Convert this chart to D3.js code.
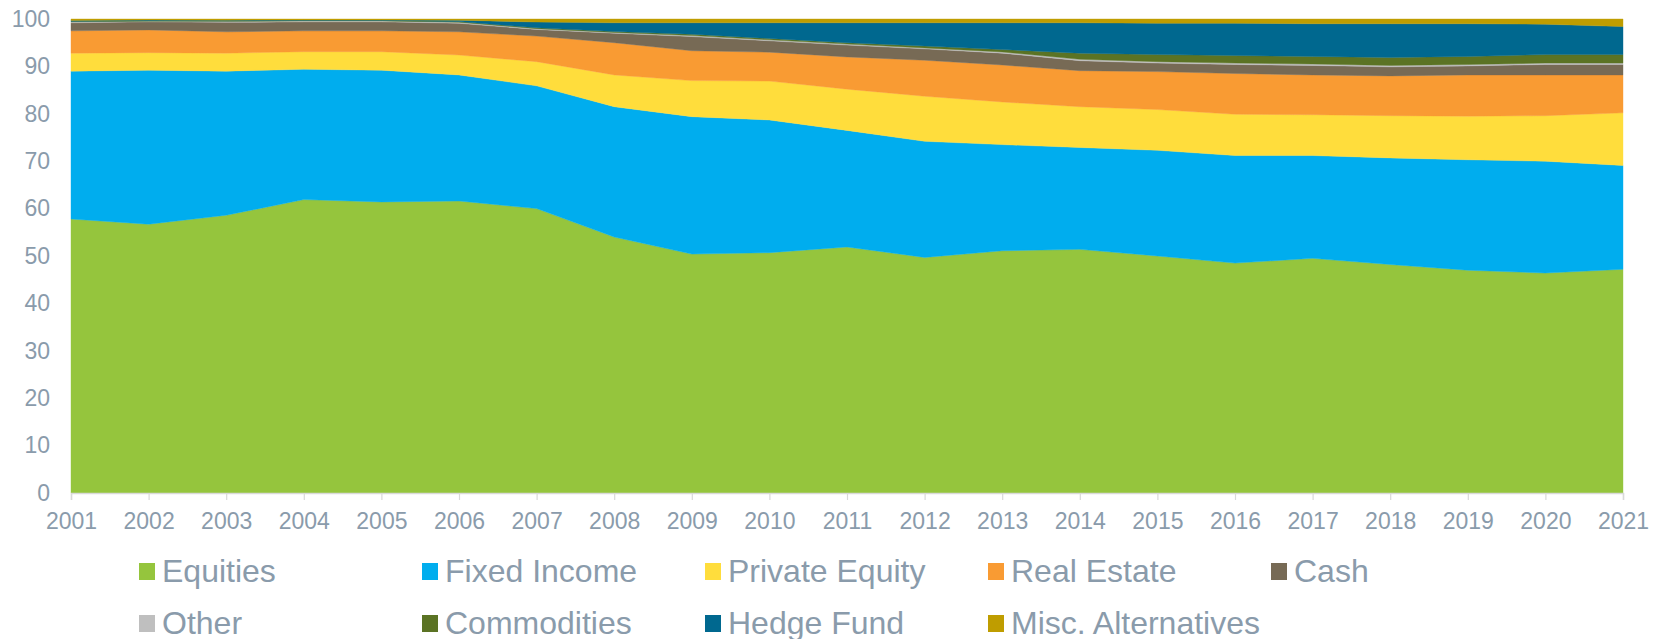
<!DOCTYPE html>
<html>
<head>
<meta charset="utf-8">
<script src="https://cdn.jsdelivr.net/npm/d3@7"></script>
<style>
  body { margin: 0; background: #fff; }
  text { font-family: "Liberation Sans", Arial, sans-serif; fill: #8a9bab; }
</style>
</head>
<body>
<svg id="chart" width="1654" height="639"></svg>
<script>
// years on the x axis
const years = [2001,2002,2003,2004,2005,2006,2007,2008,2009,2010,2011,2012,2013,2014,2015,2016,2017,2018,2019,2020,2021];

// allocation shares in % (bottom layer first)
const equities      = [57.8,56.7,58.6,61.9,61.4,61.6,60.0,54.0,50.4,50.7,51.9,49.7,51.1,51.4,50.0,48.5,49.5,48.2,47.0,46.4,47.2];
const fixedIncome   = [31.2,32.5,30.4,27.5,27.8,26.6,25.9,27.5,29.0,28.0,24.6,24.5,22.4,21.5,22.3,22.7,21.7,22.5,23.3,23.6,21.9];
const privateEquity = [3.8,3.7,3.8,3.7,3.9,4.2,5.1,6.7,7.6,8.2,8.7,9.5,9.0,8.6,8.6,8.7,8.6,8.9,9.2,9.6,11.1];
const realEstate    = [4.7,4.8,4.5,4.4,4.4,4.9,5.4,6.8,6.3,6.1,6.8,7.6,7.8,7.6,8.0,8.6,8.4,8.4,8.7,8.6,8.0];
const cash          = [1.7,1.7,2.0,1.9,1.9,1.8,1.4,2.0,3.0,2.4,2.5,2.4,2.5,2.1,1.8,1.9,2.0,1.9,1.9,2.2,2.2];
const other         = [0.2,0.15,0.2,0.2,0.2,0.2,0.15,0.15,0.2,0.2,0.2,0.2,0.25,0.3,0.3,0.3,0.3,0.3,0.3,0.3,0.3];
const commodities   = [0.1,0.1,0.1,0.1,0.1,0.15,0.2,0.2,0.3,0.3,0.3,0.4,0.5,1.3,1.5,1.6,1.6,1.7,1.7,1.8,1.8];
const hedgeFund     = [0.2,0.15,0.15,0.1,0.1,0.3,1.2,1.85,2.4,3.3,4.2,4.9,5.65,6.4,6.6,6.8,6.9,7.1,6.9,6.4,5.9];
const miscAlt       = [0.3,0.2,0.25,0.2,0.2,0.25,0.65,0.8,0.8,0.8,0.8,0.8,0.8,0.8,0.9,0.9,1.0,1.0,1.0,1.1,1.6];

const seriesNames = ["Equities","Fixed Income","Private Equity","Real Estate","Cash","Other","Commodities","Hedge Fund","Misc. Alternatives"];
const seriesValues = [equities, fixedIncome, privateEquity, realEstate, cash, other, commodities, hedgeFund, miscAlt];
const seriesColors = ["#95c53d","#00adee","#ffdd3c","#f99b33","#776a55","#bfbfbf","#5b7324","#00688f","#bf9d00"];
const yTicks = [0,10,20,30,40,50,60,70,80,90,100];

// table for d3.stack
const rows = years.map((yr, i) => {
  let row = {year: yr};
  seriesNames.forEach((name, k) => row[name] = seriesValues[k][i]);
  return row;
});

const svg = d3.select("#chart");
const plotLeft = 71, plotRight = 1623, plotTop = 19, plotBottom = 493;

const x = d3.scaleLinear([years[0], years[years.length - 1]], [plotLeft, plotRight]);
const y = d3.scaleLinear([0, 100], [plotBottom, plotTop]);

const stacked = d3.stack().keys(seriesNames)(rows);

const area = d3.area()
  .x(d => x(d.data.year))
  .y0(d => y(d[0]))
  .y1(d => y(d[1]));

svg.append("g")
  .selectAll("path")
  .data(stacked)
  .join("path")
    .attr("d", area)
    .attr("fill", (d, i) => seriesColors[i])
    .attr("stroke", (d, i) => seriesColors[i])
    .attr("stroke-width", 0.4);

// x axis: light line with small ticks below
const xAxis = svg.append("g")
  .attr("transform", `translate(0,${plotBottom})`)
  .call(d3.axisBottom(x).tickValues(years).tickFormat(d3.format("d")).tickSize(7).tickPadding(13));
xAxis.select(".domain").attr("stroke", "#d9d9d9").attr("stroke-width", 1.5);
xAxis.selectAll(".tick line").attr("stroke", "#d9d9d9").attr("stroke-width", 1.2);
xAxis.selectAll(".tick text")
  .attr("font-size", 23)
  .attr("font-family", "Liberation Sans, Arial, sans-serif")
  .attr("fill", "#8a9bab");

// y axis: labels only
const yAxis = svg.append("g")
  .attr("transform", `translate(${plotLeft},0)`)
  .call(d3.axisLeft(y).tickValues(yTicks).tickSize(0).tickPadding(21));
yAxis.select(".domain").remove();
yAxis.selectAll(".tick text")
  .attr("font-size", 23)
  .attr("font-family", "Liberation Sans, Arial, sans-serif")
  .attr("fill", "#8a9bab");

// legend, two rows of five columns
const legend = svg.append("g");
seriesNames.forEach((name, i) => {
  const col = i % 5, row = Math.floor(i / 5);
  const lx = 139 + col * 283, ly = 563 + row * 52;
  legend.append("rect")
    .attr("x", lx).attr("y", ly)
    .attr("width", 16).attr("height", 17)
    .attr("fill", seriesColors[i]);
  legend.append("text")
    .attr("x", lx + 23).attr("y", ly + 19)
    .attr("font-size", 32)
    .text(name);
});
</script>
</body>
</html>
